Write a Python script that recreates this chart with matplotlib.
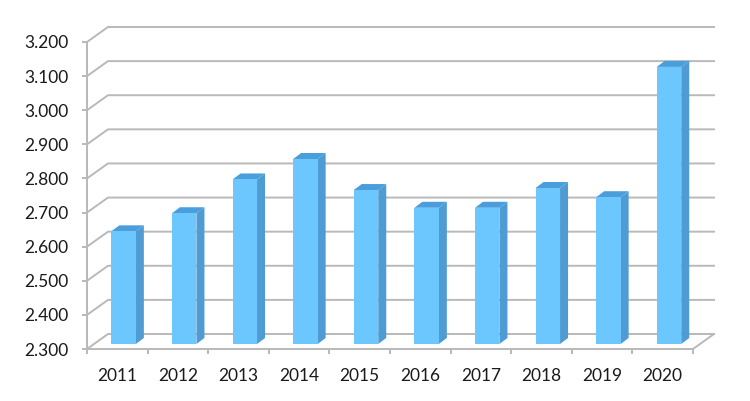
import matplotlib
matplotlib.use("Agg")
import matplotlib.pyplot as plt
from matplotlib.patches import Polygon

years = ["2011","2012","2013","2014","2015","2016","2017","2018","2019","2020"]
values = [2.645,2.698,2.797,2.857,2.766,2.714,2.714,2.772,2.745,3.127]
y_ticks = [2.3,2.4,2.5,2.6,2.7,2.8,2.9,3.0,3.1,3.2]
y_labels = ["2.300","2.400","2.500","2.600","2.700","2.800","2.900","3.000","3.100","3.200"]

W, H = 750, 401
FRONT = "#6CC7FF"; SIDE = "#4F9BD3"; TOP = "#4A9EDB"; GRID = "#B9B9B9"
fig = plt.figure(figsize=(W/100, H/100), dpi=100)
L, R, T, B = 87, 693, 42, 349
ax = fig.add_axes([L/W, 1-B/H, (R-L)/W, (B-T)/H])
ax.set_xlim(-0.5, 9.5)
ax.set_ylim(2.3, 3.2)
ax.patch.set_visible(False)
for s in ax.spines.values():
    s.set_visible(False)

pxx = 10/(R-L)           # data per pixel, x
pxy = 0.9/(B-T)          # data per pixel, y
wx, wy = 21*pxx, 15*pxy  # wall depth
lw = 1.4
x0, x1 = -0.5, 9.5
for t in y_ticks:
    ax.plot([x0, x0+wx, x1+wx], [t, t+wy, t+wy], color=GRID, lw=lw, clip_on=False, zorder=1, solid_joinstyle="round")
ax.plot([x0, x0], [2.3, 3.2], color=GRID, lw=lw, clip_on=False, zorder=1)
ax.plot([x0, x1, x1+wx], [2.3, 2.3, 2.3+wy], color=GRID, lw=lw, clip_on=False, zorder=1)

# floor offset and depth of the boxes
ox, oy = 6.3*pxx, 5*pxy
dx, dy = 8*pxx, 6*pxy
bw = 24.5*pxx
for i, v in enumerate(values):
    xl = i+ox-bw/2; xr = xl+bw
    yb = 2.3+oy; yt = v
    ax.add_patch(Polygon([(xr,yb),(xr+dx,yb+dy),(xr+dx,yt+dy),(xr,yt)], closed=True, fc=SIDE, ec="none", clip_on=False, zorder=3))
    ax.add_patch(Polygon([(xl,yt),(xr,yt),(xr+dx,yt+dy),(xl+dx,yt+dy)], closed=True, fc=TOP, ec="none", clip_on=False, zorder=3))
ax.bar([i+ox for i in range(len(values))], [v-(2.3+oy) for v in values], bottom=2.3+oy, width=bw,
       color=FRONT, linewidth=0, zorder=4, clip_on=False)

ax.set_yticks(y_ticks, y_labels)
ax.set_xticks([i-0.5 for i in range(11)], [""]*11)
ax.set_xticks(range(10), years, minor=True)
ax.tick_params(axis="y", length=3.6, width=lw, color=GRID, pad=9.5, labelsize=12.5, labelcolor="#1a1a1a")
ax.tick_params(axis="x", which="major", length=3.6, width=lw, color=GRID)
ax.tick_params(axis="x", which="minor", length=0, pad=14, labelsize=12.5, labelcolor="#1a1a1a")
for lab in ax.get_xticklabels(minor=True)+ax.get_yticklabels():
    lab.set_fontfamily("Lato")
for lab in ax.get_yticklabels():
    lab.set_verticalalignment("center_baseline")
fig.savefig("out.png", dpi=100)
